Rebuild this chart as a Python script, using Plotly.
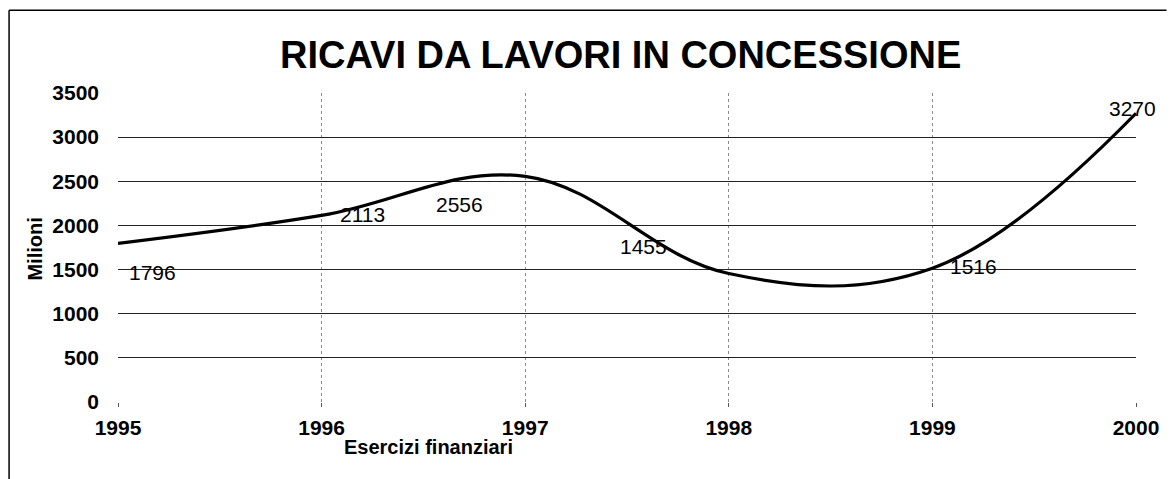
import plotly.graph_objects as go

# Dati
anni = [1995, 1996, 1997, 1998, 1999, 2000]
ricavi = [1796, 2113, 2556, 1455, 1516, 3270]
tick_y = [0, 500, 1000, 1500, 2000, 2500, 3000, 3500]
griglia_y = [0, 500, 1000, 1500, 2000, 2500, 3000]

# spostamento delle etichette (pixel) come nell'originale
sposta_x = [34, 41, -66, -85, 41, -4]
sposta_y = [-29, 1, -28, 27, 2, 5]

font = "Liberation Sans, Arial, sans-serif"

fig = go.Figure()

# traccia invisibile per l'asse della griglia orizzontale
fig.add_trace(go.Scatter(x=anni, y=ricavi, yaxis="y2", mode="lines",
                         line=dict(width=0), hoverinfo="skip", showlegend=False))

fig.add_trace(go.Scatter(x=anni, y=ricavi, mode="lines",
                         line=dict(color="black", width=3.2, shape="spline", smoothing=1.1),
                         showlegend=False))

for a, v, dx, dy in zip(anni, ricavi, sposta_x, sposta_y):
    fig.add_annotation(x=a, y=v, text=str(v), showarrow=False,
                       xshift=dx, yshift=dy,
                       font=dict(family=font, size=21, color="black"))

fig.update_layout(
    width=1171, height=479,
    margin=dict(l=118, r=28, t=93, b=77),
    paper_bgcolor="white", plot_bgcolor="white",
    title=dict(text="<b>RICAVI DA LAVORI IN CONCESSIONE</b>",
               x=0.53, xanchor="center", y=0.885, yanchor="middle",
               font=dict(family=font, size=38, color="black")),
    xaxis=dict(range=[1995, 2000], tickvals=anni, ticktext=[str(a) for a in anni],
               showgrid=True, gridcolor="#8a8a8a", griddash="dot", gridwidth=1,
               zeroline=False, showline=False, ticks="outside", ticklen=4,
               tickcolor="#555555", ticklabelstandoff=3,
               tickfont=dict(family=font, size=21, color="black", weight="bold")),
    yaxis=dict(range=[0, 3500], tickvals=tick_y, showgrid=False, zeroline=False,
               showline=False, ticks="", ticklabelstandoff=18,
               tickfont=dict(family=font, size=21, color="black", weight="bold")),
    yaxis2=dict(range=[0, 3500], overlaying="y", tickvals=griglia_y,
                showticklabels=False, showgrid=True, gridcolor="#222222",
                gridwidth=1.3, zeroline=False, ticks=""),
)

# titoli degli assi
fig.add_annotation(text="<b>Esercizi finanziari</b>", xref="paper", yref="paper",
                   x=0.305, y=-0.145, xanchor="center", yanchor="middle", showarrow=False,
                   font=dict(family=font, size=20, color="black"))
fig.add_annotation(text="<b>Milioni</b>", xref="paper", yref="paper",
                   x=-0.081, y=0.495, xanchor="center", yanchor="middle", textangle=-90,
                   showarrow=False, font=dict(family=font, size=20, color="black"))

# cornice del grafico (lato superiore e sinistro)
fig.add_shape(type="line", xref="paper", yref="paper", x0=-0.107, x1=1.03, y0=1.268, y1=1.268,
              line=dict(color="black", width=1.5))
fig.add_shape(type="line", xref="paper", yref="paper", x0=-0.107, x1=-0.107, y0=1.268, y1=-0.26,
              line=dict(color="black", width=1.5))

# niente margine della pagina, così la figura riempie la finestra
fig.write_html("out.html", config={"displayModeBar": False},
               post_script="document.body.style.margin='0';")
